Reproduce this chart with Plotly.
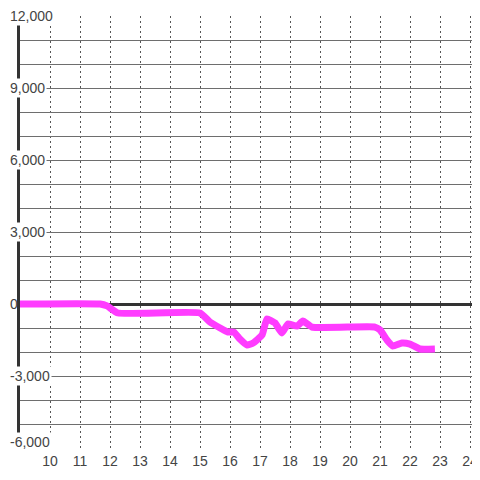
import plotly.graph_objects as go

# data
hours = [9.0, 11.67, 11.9, 12.27, 15.0, 15.33, 15.67, 15.93, 16.13, 16.33, 16.57, 16.77,
         17.07, 17.23, 17.5, 17.73, 17.93, 18.23, 18.43, 18.73, 20.83, 21.0, 21.23,
         21.43, 21.73, 22.0, 22.33, 22.83]
values = [0, 0, -80, -375, -375, -750, -1000, -1170, -1170, -1460, -1710, -1625,
          -1290, -625, -790, -1210, -830, -920, -710, -960, -960, -1080, -1500,
          -1750, -1625, -1670, -1875, -1875]

x_ticks = list(range(10, 25))
y_label_vals = [-6000, -3000, 0, 3000, 6000, 9000, 12000]
y_label_text = ["-6,000", "-3,000", "0", "3,000", "6,000", "9,000", "12,000"]

# page body has an 8px margin, so the figure is drawn 8px in from the corner;
# keep the page within the 480x480 window so no scrollbar appears
OFF = 8
W, H = 480 - OFF, 460
ml, mr, mt = 20 - OFF, 0, 16 - OFF
ph = 432
mb = H - mt - ph
pw = W - ml - mr

fig = go.Figure()
fig.add_trace(go.Scatter(x=hours, y=values, mode="lines",
                         line=dict(color="#ff3cff", width=7, shape="spline", smoothing=0.4),
                         hoverinfo="skip", showlegend=False))

annotations = []
for v, t in zip(y_label_vals, y_label_text):
    annotations.append(dict(
        x=(0 - ml) / pw, xref="paper", xanchor="left",
        y=v, yref="y", yanchor="middle", yshift=6 if v == min(y_label_vals) else 0,
        text=t, showarrow=False, bgcolor="white" if t != "0" else "rgba(0,0,0,0)",
        borderpad=1, font=dict(family="Liberation Sans, Arial, sans-serif", size=14, color="#444"),
    ))

fig.update_layout(
    width=W, height=H, autosize=False,
    margin=dict(l=ml, r=mr, t=mt, b=mb, pad=0, autoexpand=False),
    paper_bgcolor="white", plot_bgcolor="white",
    showlegend=False,
    annotations=annotations,
    xaxis=dict(range=[9, 9 + pw / 30.0], tickvals=x_ticks, ticks="", automargin=False,
               ticklabelstandoff=3, ticklabeloverflow="allow",
               showgrid=True, gridcolor="#555", gridwidth=1, griddash="2px,3px",
               zeroline=False, showline=False,
               tickfont=dict(family="Liberation Sans, Arial, sans-serif", size=14, color="#444")),
    yaxis=dict(range=[-6000, 12000], dtick=1000, tick0=0, showticklabels=False, ticks="",
               automargin=False,
               showgrid=True, gridcolor="#6e6e6e", gridwidth=1,
               zeroline=True, zerolinecolor="#333", zerolinewidth=3,
               showline=True, linecolor="#333", linewidth=3),
)

fig.write_html("out.html")
